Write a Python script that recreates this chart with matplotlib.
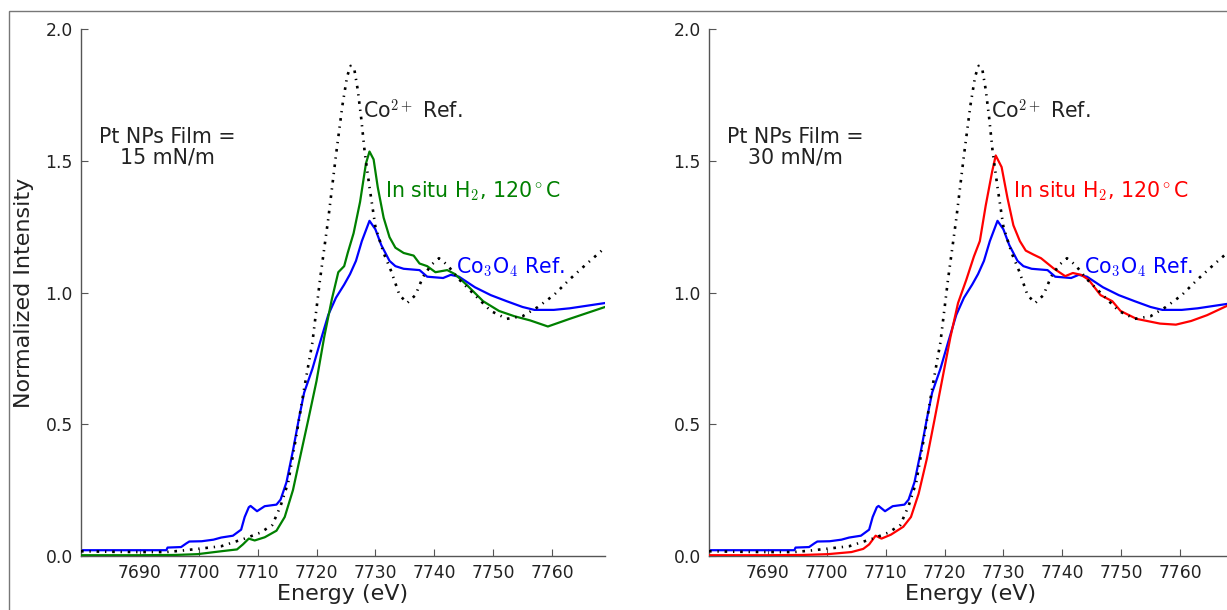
import matplotlib
matplotlib.use("Agg")
import matplotlib.pyplot as plt
from matplotlib.patches import Rectangle

plt.rcParams["font.family"] = ["DejaVu Sans"]
plt.rcParams["mathtext.fontset"] = "cm"

# Co2+ reference (shared by both panels)
co2_e = [7680, 7685, 7690, 7694.4, 7697, 7699.8, 7703.8, 7707.8, 7710.5, 7712.5, 7713.9,
         7715.2, 7716.6, 7717.9, 7719.3, 7720.6, 7722, 7723.3, 7724.4, 7725.2, 7725.8,
         7726.4, 7727.0, 7727.6, 7728.2, 7729, 7730, 7731.4, 7732.7, 7734.1, 7735.4,
         7736.8, 7738.1, 7739.5, 7740.8, 7742.2, 7744.2, 7746.9, 7749.6, 7752.3, 7755,
         7757.6, 7760.3, 7763, 7765.7, 7769]
co2_i = [0.018, 0.016, 0.015, 0.015, 0.02, 0.027, 0.037, 0.066, 0.089, 0.118, 0.19,
         0.28, 0.46, 0.635, 0.81, 1.05, 1.28, 1.52, 1.71, 1.82, 1.86,
         1.85, 1.77, 1.66, 1.53, 1.40, 1.25, 1.15, 1.08, 0.99, 0.96,
         0.99, 1.06, 1.105, 1.13, 1.105, 1.05, 0.99, 0.93, 0.90, 0.91,
         0.945, 0.99, 1.05, 1.105, 1.17]

# Co3O4 reference (shared by both panels)
co3o4_e = [7680, 7694.5, 7694.7, 7697.0, 7697.9, 7698.4, 7700.5, 7702.5, 7703.8, 7705.8,
           7707.2, 7707.8, 7708.5, 7708.8, 7709.9, 7711.2, 7713.2, 7713.9, 7714.9, 7716,
           7717, 7717.9, 7719.3, 7720.6, 7722, 7723.3, 7724.7, 7725.7, 7726.7, 7727.7,
           7729, 7730, 7731, 7732.4, 7733.4, 7734.8, 7737.5, 7738.8, 7741.5, 7742.8,
           7744.2, 7746.9, 7749.6, 7752.3, 7755, 7757, 7760.3, 7763, 7769]
co3o4_i = [0.022, 0.022, 0.032, 0.034, 0.048, 0.055, 0.056, 0.062, 0.07, 0.077,
           0.10, 0.148, 0.185, 0.19, 0.17, 0.189, 0.195, 0.214, 0.28, 0.40,
           0.52, 0.62, 0.71, 0.81, 0.915, 0.98, 1.03, 1.07, 1.12, 1.195,
           1.272, 1.24, 1.18, 1.12, 1.10, 1.09, 1.085, 1.06, 1.055, 1.067,
           1.06, 1.02, 0.99, 0.967, 0.945, 0.934, 0.934, 0.94, 0.96]

# Pt NPs film 15 mN/m, in situ H2 at 120 C
h2_15_e = [7680, 7690, 7696, 7699.8, 7703.8, 7706.5, 7707.5, 7708.5, 7709.5, 7711.2,
           7713.2, 7714.6, 7716, 7717.3, 7718.6, 7720, 7721.3, 7722.6, 7723.7, 7724.7,
           7725.3, 7726.3, 7727.4, 7728.4, 7729, 7729.7, 7730.4, 7731.4, 7732.4, 7733.4,
           7734.8, 7736.5, 7737.5, 7738.8, 7740.2, 7742.2, 7743.5, 7745.6, 7748.3, 7751,
           7753.6, 7756.3, 7759.3, 7763, 7769]
h2_15_i = [0.003, 0.003, 0.004, 0.007, 0.018, 0.025, 0.044, 0.066, 0.059, 0.071,
           0.096, 0.148, 0.25, 0.384, 0.517, 0.664, 0.83, 0.974, 1.077, 1.10,
           1.15, 1.225, 1.344, 1.49, 1.535, 1.505, 1.40, 1.284, 1.21, 1.17,
           1.15, 1.14, 1.11, 1.10, 1.077, 1.085, 1.07, 1.027, 0.967, 0.93,
           0.91, 0.894, 0.871, 0.90, 0.945]

# Pt NPs film 30 mN/m, in situ H2 at 120 C
h2_30_e = [7680, 7690, 7696, 7700.2, 7704.2, 7706.2, 7707.2, 7708.3, 7709.3, 7710.9,
           7713, 7714.3, 7715.6, 7717, 7718.3, 7719.7, 7721, 7722.3, 7723.7, 7725,
           7726, 7727, 7728.1, 7728.7, 7729.7, 7730.7, 7731.7, 7732.8, 7733.8, 7735.1,
           7736.4, 7738.5, 7740.5, 7741.8, 7743.2, 7744.5, 7746.5, 7748.5, 7749.9, 7752.6,
           7756.6, 7759.3, 7761.9, 7764.6, 7769]
h2_30_i = [0.003, 0.003, 0.004, 0.007, 0.015, 0.027, 0.044, 0.077, 0.066, 0.081,
           0.111, 0.148, 0.236, 0.369, 0.517, 0.68, 0.83, 0.96, 1.048, 1.137,
           1.195, 1.33, 1.46, 1.52, 1.476, 1.358, 1.255, 1.195, 1.159, 1.144,
           1.13, 1.092, 1.062, 1.074, 1.067, 1.048, 0.99, 0.967, 0.93, 0.90,
           0.882, 0.878, 0.892, 0.914, 0.96]

panels = [
    {"sample_e": h2_15_e, "sample_i": h2_15_i, "color": "g", "film": "Pt NPs Film =\n15 mN/m"},
    {"sample_e": h2_30_e, "sample_i": h2_30_i, "color": "r", "film": "Pt NPs Film =\n30 mN/m"},
]

W, H = 1227, 610
fig = plt.figure(figsize=(W / 100, H / 100), dpi=100)

# thin grey frame around the figure
fig.patches.append(Rectangle((9 / W, -0.2), 2.0, 1.2 - 11 / H, transform=fig.transFigure,
                             fill=False, edgecolor="#777777", linewidth=1.0, clip_on=False))

xticks = [7690, 7700, 7710, 7720, 7730, 7740, 7750, 7760]
yticks = [0.0, 0.5, 1.0, 1.5, 2.0]
lefts = [81, 709]
fs_note = 14.8

for left_px, p in zip(lefts, panels):
    ax = fig.add_axes([left_px / W, (H - 556) / H, 524 / W, 527 / H])
    ax.plot(co3o4_e, co3o4_i, color="b", lw=1.6, zorder=2)
    ax.plot(p["sample_e"], p["sample_i"], color=p["color"], lw=1.6, zorder=3)
    ax.plot(co2_e, co2_i, color="k", lw=1.9, dashes=(1.0, 2.2, 0.5, 2.2), zorder=4)

    ax.set_xlim(7680, 7769)
    ax.set_ylim(0, 2.0)
    ax.set_xticks(xticks)
    ax.set_yticks(yticks)
    ax.set_yticklabels(["0.0", "0.5", "1.0", "1.5", "2.0"])
    for s in ("top", "right"):
        ax.spines[s].set_visible(False)
    for s in ("left", "bottom"):
        ax.spines[s].set_color("#555555")
        ax.spines[s].set_linewidth(1.0)
    ax.tick_params(direction="in", length=5, width=0.8, color="#555555",
                   labelsize=12.3, labelcolor="#222222", pad=6)
    ax.set_xlabel("Energy (eV)", fontsize=16, labelpad=1, color="#222222")

    ax.text(7694.7, 1.55, p["film"], ha="center", va="center", fontsize=fs_note,
            color="#222222", linespacing=1.05)
    ax.text(7727.9, 1.69, "Co$^{2+}$ Ref.", ha="left", va="center", fontsize=fs_note,
            color="#222222")
    ax.text(7731.7, 1.385, "In situ H$_2$, 120$^\\circ$C", ha="left", va="center",
            fontsize=fs_note, color=p["color"])
    ax.text(7743.7, 1.097, "Co$_3$O$_4$ Ref.", ha="left", va="center",
            fontsize=fs_note, color="b")

    if left_px == 81:
        ax.set_ylabel("Normalized Intensity", fontsize=16, color="#222222", labelpad=8)

fig.savefig("out.png", dpi=100)
